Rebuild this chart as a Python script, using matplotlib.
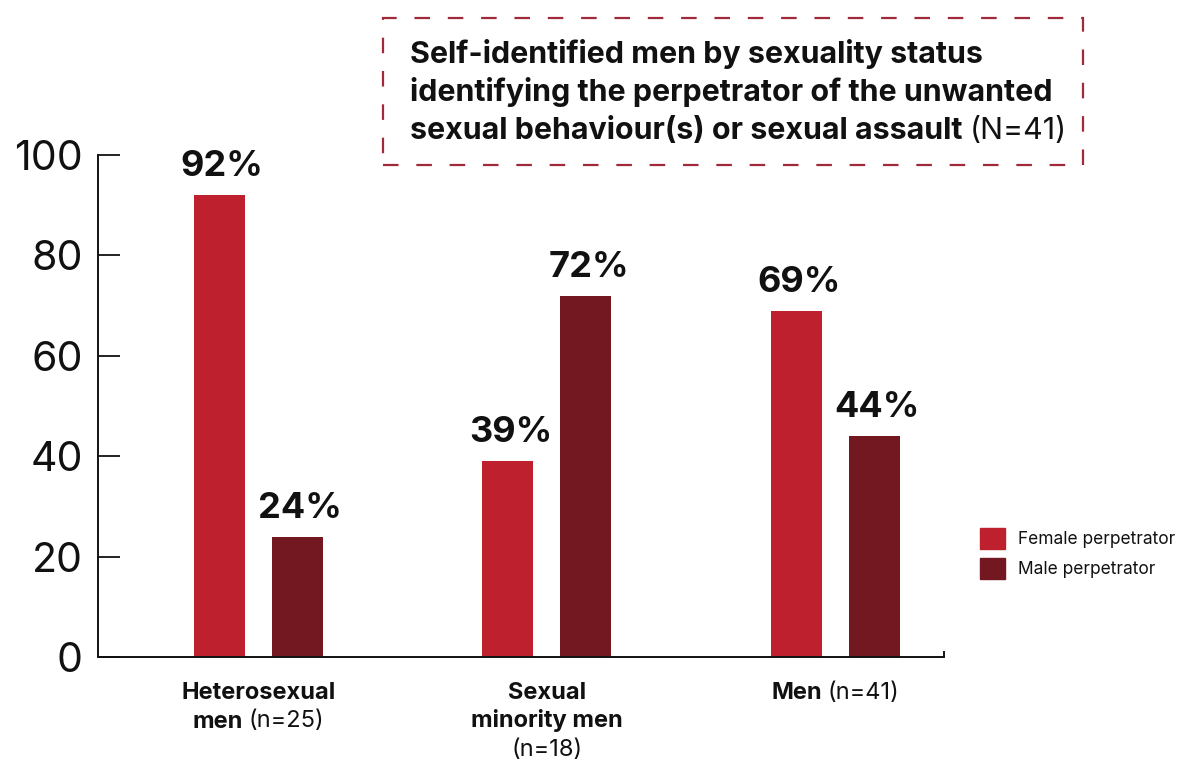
import matplotlib
matplotlib.use("Agg")
import matplotlib.pyplot as plt
import numpy as np
from matplotlib.patches import Patch, Rectangle
from matplotlib.transforms import blended_transform_factory, offset_copy

# data
group_labels = [
    [[("Heterosexual", "bold")], [("men", "bold"), ("(n=25)", "normal")]],
    [[("Sexual", "bold")], [("minority men", "bold")], [("(n=18)", "normal")]],
    [[("Men", "bold"), ("(n=41)", "normal")]],
]
female = [92, 39, 69]
male = [24, 72, 44]
series_names = ["Female perpetrator", "Male perpetrator"]
yticks = [0, 20, 40, 60, 80, 100]
title_lines = [
    [("Self-identified men by sexuality status", "bold")],
    [("identifying the perpetrator of the unwanted", "bold")],
    [("sexual behaviour(s) or sexual assault", "bold"), ("(N=41)", "normal")],
]

FEMALE = "#be202d"
MALE = "#731820"
BOX = "#a0293a"
INK = "#111111"
W, H = 1177, 760

plt.rcParams["font.family"] = ["Inter", "DejaVu Sans"]

fig = plt.figure(figsize=(W / 100, H / 100), dpi=100)
renderer = fig.canvas.get_renderer()

ax = fig.add_axes([98 / W, 103 / H, (944 - 98) / W, (657 - 155) / H])
x = np.arange(len(female))
off, bw = 0.135, 0.177
ax.bar(x - off, female, bw, color=FEMALE, zorder=2)
ax.bar(x + off, male, bw, color=MALE, zorder=2)
ax.set_xlim(-0.555, 2.376)
ax.set_ylim(0, 100)

for s in ("top", "right"):
    ax.spines[s].set_visible(False)
for s in ("left", "bottom"):
    ax.spines[s].set_color(INK)
    ax.spines[s].set_linewidth(1.4)

ax.set_yticks(yticks)
ax.tick_params(axis="y", direction="in", length=16, width=1.3, labelsize=29.5,
               pad=11, colors=INK)
ax.set_xticks([])
ax.set_xticks([2.376], minor=True)
ax.tick_params(axis="x", which="minor", direction="in", length=4, width=1.3,
               labelbottom=False)

for xs, vals in ((x - off, female), (x + off, male)):
    for xi, v in zip(xs, vals):
        ax.annotate(f"{v}%", (xi, v), xytext=(2, 13.5), textcoords="offset points",
                    ha="center", va="baseline", fontsize=26, fontweight="bold",
                    color=INK)


def measure(s, size, weight):
    t = fig.text(0, 0, s, fontsize=size, fontweight=weight)
    w = t.get_window_extent(renderer).width
    t.remove()
    return w


def rich_line(parts, xpos, ypos, base, size, center=True):
    widths = [measure(s, size, wt) for s, wt in parts]
    gap = size * fig.dpi / 72 * 0.25
    total = sum(widths) + gap * (len(parts) - 1)
    cur = -total / 2 if center else 0
    for (s, wt), w in zip(parts, widths):
        fig.text(xpos, ypos, s, fontsize=size, fontweight=wt, color=INK,
                 ha="left", va="baseline",
                 transform=offset_copy(base, fig=fig, x=cur, y=0, units="dots"))
        cur += w + gap


# category labels below the axis
lab_base = blended_transform_factory(ax.transData, fig.transFigure)
for xi, lines in zip(x, group_labels):
    for k, parts in enumerate(lines):
        rich_line(parts, xi, 1 - (699 + 28.5 * k) / H, lab_base, 17)

# title inside dashed box
for k, parts in enumerate(title_lines):
    rich_line(parts, 410 / W, 1 - (63 + 38 * k) / H, fig.transFigure, 21.9,
              center=False)

box = Rectangle((383 / W, 1 - 165 / H), 700 / W, 147 / H, transform=fig.transFigure,
                fill=False, ec=BOX, lw=1.6, ls=(0, (7, 8)))
fig.add_artist(box)

handles = [Patch(color=FEMALE, label=series_names[0]),
           Patch(color=MALE, label=series_names[1])]
fig.legend(handles=handles, loc="upper left", bbox_to_anchor=(980 / W, 1 - 528 / H),
           frameon=False, fontsize=12.5, handlelength=1.44, handleheight=1.44,
           handletextpad=0.75, labelspacing=0.55, borderpad=0, borderaxespad=0,
           labelcolor=INK)

fig.savefig("out.png", dpi=100, facecolor="white")
